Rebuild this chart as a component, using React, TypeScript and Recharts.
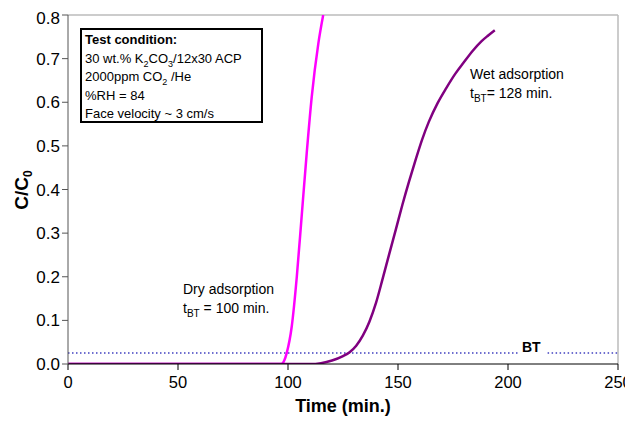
import React from "react";
import { LineChart, Line, XAxis, YAxis, ReferenceLine } from "recharts";

const dryTime = [0, 97, 98.3, 99.4, 101.7, 104, 106.2, 108.5, 110.8, 113.8, 116];
const dryValue = [0, 0, 0.008, 0.025, 0.086, 0.2, 0.338, 0.483, 0.613, 0.735, 0.8];

const wetTime = [0, 110, 115, 120, 125, 128, 131, 134, 137, 140, 143, 146, 149, 152, 155, 158, 161, 164, 168, 172, 176, 180, 184, 188, 191, 194];
const wetValue = [0, 0, 0.002, 0.008, 0.018, 0.027, 0.042, 0.065, 0.097, 0.14, 0.195, 0.252, 0.308, 0.365, 0.418, 0.468, 0.515, 0.555, 0.598, 0.633, 0.665, 0.692, 0.718, 0.74, 0.753, 0.765];

const xTicks = [0, 50, 100, 150, 200, 250];
const yTicks = [0, 0.1, 0.2, 0.3, 0.4, 0.5, 0.6, 0.7, 0.8];
const btLevel = 0.025;
const btSegments = [
  [0, 205],
  [218, 250],
];

const dryData = dryTime.map((t, i) => ({ t, v: dryValue[i] }));
const wetData = wetTime.map((t, i) => ({ t, v: wetValue[i] }));

const FONT = "'Liberation Sans', Arial, Helvetica, sans-serif";

export default function App() {
  return (
    <div style={{ position: "relative", width: 625, height: 410, fontFamily: FONT }}>
      <LineChart width={625} height={410} margin={{ top: 7, right: 15, bottom: 14, left: 0 }}>
        <XAxis
          type="number"
          dataKey="t"
          domain={[0, 250]}
          ticks={xTicks}
          allowDataOverflow
          stroke="#000"
          tickSize={6}
          tickMargin={6}
          tick={{ fill: "#000", fontSize: 16.5, fontFamily: FONT }}
          height={40}
          label={{ value: "Time (min.)", position: "insideBottom", offset: -8, fill: "#000", fontSize: 18, fontWeight: "bold", fontFamily: FONT }}
        />
        <YAxis
          type="number"
          domain={[0, 0.8]}
          ticks={yTicks}
          allowDataOverflow
          stroke="#555"
          tickSize={6}
          width={60}
          tickFormatter={(v: number) => v.toFixed(1)}
          tick={{ fill: "#000", fontSize: 17, fontFamily: FONT }}
        />
        <ReferenceLine y={0.8} stroke="#bbb" strokeWidth={1.5} />
        <ReferenceLine x={250} stroke="#bbb" strokeWidth={1.5} />
        {btSegments.map((s, i) => (
          <ReferenceLine
            key={i}
            segment={[{ x: s[0], y: btLevel }, { x: s[1], y: btLevel }]}
            stroke="#4040c0"
            strokeWidth={1.5}
            strokeDasharray="1.5 2.5"
          />
        ))}
        <Line data={dryData} dataKey="v" type="monotone" stroke="#ff00ff" strokeWidth={2.5} dot={false} isAnimationActive={false} />
        <Line data={wetData} dataKey="v" type="monotone" stroke="#800080" strokeWidth={2.5} dot={false} isAnimationActive={false} />
      </LineChart>

      <div
        style={{
          position: "absolute",
          left: 15,
          top: 182,
          transform: "translate(-50%, -50%) rotate(-90deg)",
          fontSize: 19,
          fontWeight: "bold",
          whiteSpace: "nowrap",
        }}
      >
        C/C<sub style={{ fontSize: 12 }}>0</sub>
      </div>

      <div
        style={{
          position: "absolute",
          left: 72,
          top: 20,
          width: 176,
          height: 90,
          border: "2px solid #000",
          background: "#fff",
          fontSize: 13,
          lineHeight: "18.5px",
          padding: "1px 0 0 3px",
          boxSizing: "content-box",
        }}
      >
        <div style={{ fontWeight: "bold" }}>Test condition:</div>
        <div>
          30 wt.% K<sub style={{ fontSize: 9, lineHeight: 0 }}>2</sub>CO<sub style={{ fontSize: 9, lineHeight: 0 }}>3</sub>/12x30 ACP
        </div>
        <div>
          2000ppm CO<sub style={{ fontSize: 9, lineHeight: 0 }}>2</sub> /He
        </div>
        <div>%RH = 84</div>
        <div>Face velocity ~ 3 cm/s</div>
      </div>

      <div style={{ position: "absolute", left: 175, top: 272, fontSize: 14, lineHeight: "19px", whiteSpace: "nowrap" }}>
        <div>Dry adsorption</div>
        <div>
          t<sub style={{ fontSize: 10, lineHeight: 0 }}>BT</sub> = 100 min.
        </div>
      </div>

      <div style={{ position: "absolute", left: 462, top: 57, fontSize: 14, lineHeight: "19px", whiteSpace: "nowrap" }}>
        <div>Wet adsorption</div>
        <div>
          t<sub style={{ fontSize: 10, lineHeight: 0 }}>BT</sub>= 128 min.
        </div>
      </div>

      <div style={{ position: "absolute", left: 514, top: 331, fontSize: 14, fontWeight: "bold" }}>BT</div>
    </div>
  );
}
